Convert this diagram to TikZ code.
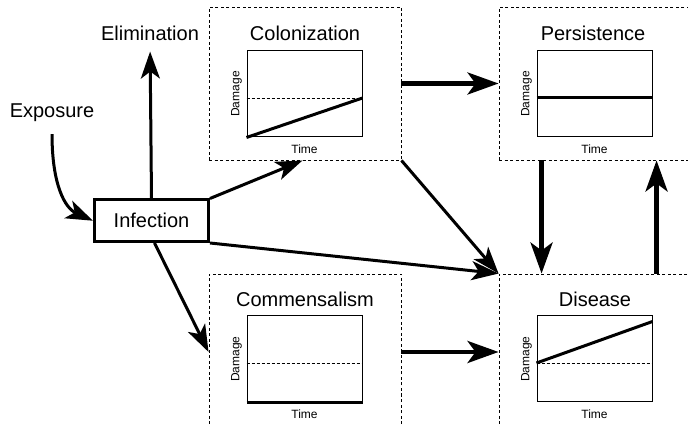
\documentclass[tikz,border=0pt]{standalone}
\usepackage{fontspec}
\setmainfont{Liberation Sans}
\usetikzlibrary{arrows.meta,calc}
\begin{document}
\begin{tikzpicture}[x=1pt,y=-1pt,
  panel/.style={draw, dash pattern=on 3pt off 2.5pt, line width=0.9pt, minimum width=192pt, minimum height=#1, inner sep=0pt},
  ttl/.style={font=\fontsize{20}{24}\selectfont, inner sep=0pt},
  plotframe/.style={draw, line width=1pt, minimum width=115pt, minimum height=86pt, inner sep=0pt},
  axlab/.style={font=\fontsize{12}{14}\selectfont, inner sep=0pt},
  midline/.style={dash pattern=on 3pt off 2pt, line width=0.8pt},
  dataline/.style={line width=3pt},
  arrT/.style={line width=3pt, -{Stealth[length=27pt,width=19pt,inset=7pt]}},
  arrB/.style={line width=4.5pt, -{Stealth[length=31pt,width=22pt,inset=8pt]}},
  infbox/.style={draw, line width=3pt, minimum width=114pt, minimum height=41.5pt, font=\fontsize{20}{24}\selectfont, inner sep=0pt}
]
\clip (0,0) rectangle (688,427);
\fill[white] (0,0) rectangle (688,427);

% panels
\node[panel=153pt] (col) at (305,83.5) {};
\node[panel=153pt] (per) at (595,83.5) {};
\node[panel=156pt] (com) at (305,352) {};
\node[panel=156pt] (dis) at (595,352) {};

% titles
\node[ttl] (colT) at (305,33) {Colonization};
\node[ttl] (perT) at (593,33) {Persistence};
\node[ttl] (comT) at (305,299) {Commensalism};
\node[ttl] (disT) at (595,299) {Disease};

% plots
\node[plotframe] (colp) at (304.5,94) {};
\node[plotframe] (perp) at (594.5,94) {};
\node[plotframe] (comp) at (304.5,359) {};
\node[plotframe] (disp) at (594.5,359) {};

\foreach \p in {colp,perp,comp,disp}{
  \node[axlab, rotate=90] (\p D) at ($(\p.west)+(-10,0)$) {Damage};
  \node[axlab] (\p T) at ($(\p.south)+(0,12)$) {Time};
}

% mid lines
\draw[midline] ($(colp.west)+(0,4)$) -- ($(colp.east)+(0,4)$);
\draw[midline] ($(comp.west)+(0,4)$) -- ($(comp.east)+(0,4)$);
\draw[midline] ($(disp.west)+(0,4)$) -- ($(disp.east)+(0,4)$);

% data lines
\draw[dataline] (colp.south west) -- ($(colp.east)+(0,4)$);
\draw[dataline] ($(perp.west)+(0,4)$) -- ($(perp.east)+(0,4)$);
\draw[dataline] (comp.south west) -- (comp.south east);
\draw[dataline] ($(disp.west)+(0,4)$) -- ($(disp.north east)+(0,6)$);

% left side
\node[ttl] (expo) at (52,113) {Exposure};
\node[ttl] (elim) at (150,33) {Elimination};
\node[infbox] (inf) at (151.5,220.75) {Infection};

% arrows
\draw[arrT, shorten <=12pt] (expo.south) .. controls (52,185) and (65,208) .. (inf.west);
\draw[arrT, shorten >=11pt] (inf.north) -- (elim.south);
\draw[arrT] (inf.north east) -- ($(col.south west)+(94,0)$);
\draw[arrT] ($(inf.south)+(3,0)$) -- (com.west);
\draw[arrT] (inf.south east) -- (dis.north west);
\draw[arrT] (col.south east) -- (dis.north west);
\draw[arrB] (col.east) -- (per.west);
\draw[arrB] (com.east) -- (dis.west);
\draw[arrB] ($(per.south west)+(43,0)$) -- ($(dis.north west)+(43,0)$);
\draw[arrB] ($(dis.north west)+(158,0)$) -- ($(per.south west)+(158,0)$);
\end{tikzpicture}
\end{document}
